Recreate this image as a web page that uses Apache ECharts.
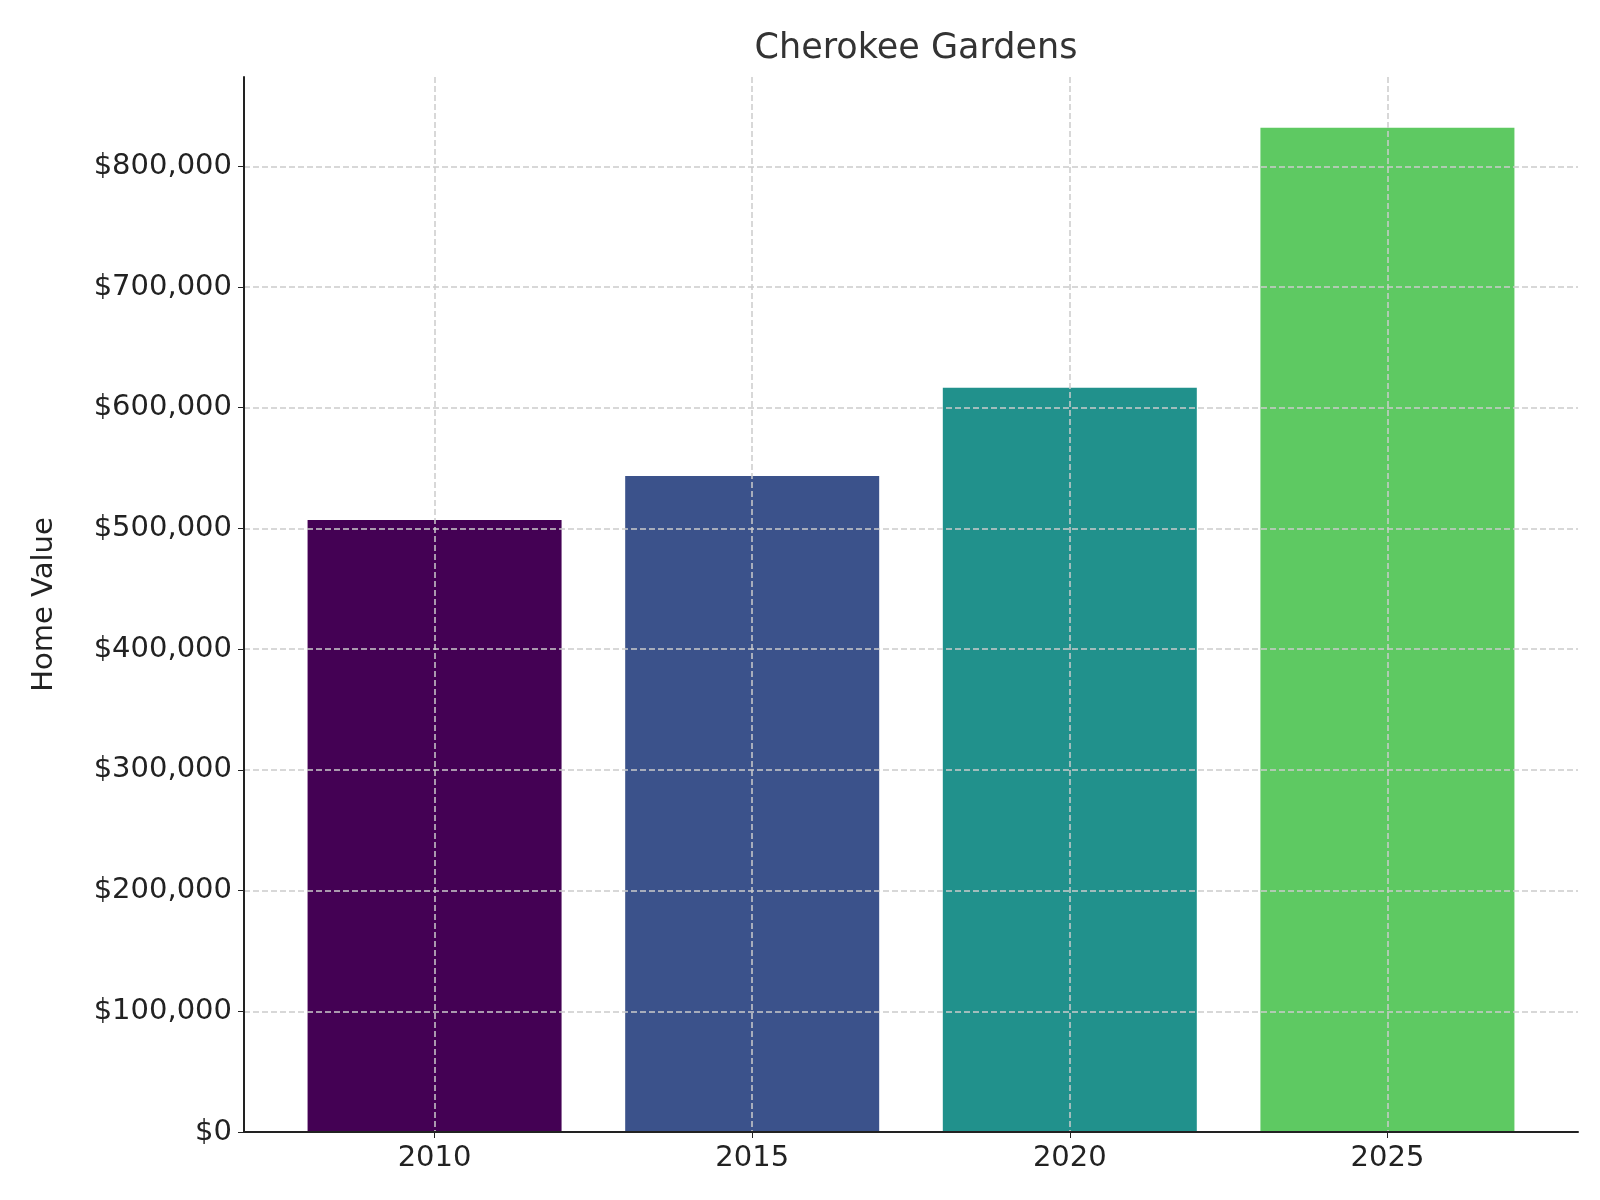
<!doctype html>
<html>
<head>
<meta charset="UTF-8">
<script src="https://cdn.jsdelivr.net/npm/echarts@6/dist/echarts.min.js"></script>
</head>
<body style="margin:0">
<div id="main" style="width:1600px;height:1200px;"></div>
<script>
    var years = ['2010', '2015', '2020', '2025'];
    var values = [507000, 543500, 616500, 832000];
    var colors = ['#440154', '#3b528b', '#21918c', '#5ec962'];
    var yTicks = [0, 100000, 200000, 300000, 400000, 500000, 600000, 700000, 800000];

    var fmt = function (v) { return '$' + v.toLocaleString('en-US'); };
    var chart = echarts.init(document.getElementById('main'));
    chart.setOption({
        animation: false,
        backgroundColor: '#fff',
        title: {
            text: 'Cherokee Gardens', left: 911, top: 26, textAlign: 'center',
            textStyle: { fontFamily: 'DejaVu Sans', fontSize: 35, fontWeight: 'normal', color: '#333' }
        },
        grid: { left: 244, top: 77, width: 1334, height: 1055 },
        xAxis: {
            type: 'value', min: -0.6, max: 3.6, z: 3,
            axisLine: { onZero: false, lineStyle: { color: '#222', width: 2 } },
            axisTick: { customValues: [0, 1, 2, 3], length: 6, lineStyle: { color: '#222' } },
            axisLabel: {
                customValues: [0, 1, 2, 3], formatter: function (v) { return years[Math.round(v)]; },
                fontFamily: 'DejaVu Sans', fontSize: 29, color: '#222', margin: 12
            },
            splitLine: { show: true, lineStyle: { type: 'dashed', color: '#ccc', width: 1.5 } }
        },
        yAxis: {
            type: 'value', min: 0, max: 874000, z: 3,
            name: 'Home Value', nameLocation: 'middle', nameGap: 185,
            nameTextStyle: { fontFamily: 'DejaVu Sans', fontSize: 29, color: '#222' },
            axisLine: { show: true, onZero: false, lineStyle: { color: '#222', width: 2 } },
            axisTick: { show: true, customValues: yTicks, length: 6, lineStyle: { color: '#222' } },
            axisLabel: {
                customValues: yTicks, formatter: fmt,
                fontFamily: 'DejaVu Sans', fontSize: 29, color: '#222', margin: 12
            },
            splitLine: { show: true, lineStyle: { type: 'dashed', color: '#ccc', width: 1.5 } }
        },
        series: [{
            type: 'bar', barWidth: 254, z: 1,
            data: values.map(function (v, i) {
                return { value: [i, v], itemStyle: { color: colors[i] } };
            })
        }]
    });
</script>
</body>
</html>
